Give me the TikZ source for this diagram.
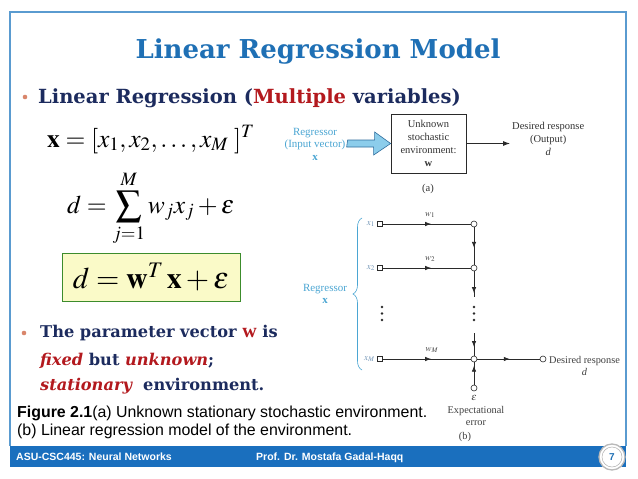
\documentclass[tikz,border=0pt]{standalone}
\usepackage{mathptmx}
\usepackage{fontspec}
\setmainfont{Liberation Serif}
\newfontfamily\titlefont{DejaVu Serif}
\newfontfamily\capfont{Liberation Sans}
\usetikzlibrary{arrows.meta,decorations.markings,decorations.pathreplacing,calc}
\definecolor{titleblue}{HTML}{1F70B5}
\definecolor{navy}{HTML}{1C2B5E}
\definecolor{darkred}{HTML}{B3191E}
\definecolor{framec}{HTML}{5A9BD0}
\definecolor{footc}{HTML}{1A6FBE}
\definecolor{cyanl}{HTML}{4BA6D3}
\definecolor{bulc}{HTML}{D9866B}
\definecolor{boxfill}{HTML}{FAFAC8}
\definecolor{boxdraw}{HTML}{3C8C2C}
\definecolor{arrfill}{HTML}{8CCDEB}
\definecolor{arrdraw}{HTML}{2F6E9E}
\definecolor{linec}{HTML}{2A2A2A}
\definecolor{xlab}{HTML}{6F93B5}
\tikzset{
  dtext/.style={font=\fontsize{10.5}{13}\selectfont, text=black!80, inner sep=0, align=center},
  btext/.style={font=\fontsize{10.3}{11.5}\selectfont, text=black!75, inner sep=0, align=center},
  smalllab/.style={font=\fontsize{9}{10}\selectfont, text=black!75, inner sep=0},
  junc/.style={circle, draw=linec, fill=white, line width=0.6pt, minimum size=6pt, inner sep=0},
  sq/.style={rectangle, draw=linec, fill=white, line width=0.6pt, minimum size=5pt, inner sep=0},
  wire/.style={draw=linec, line width=0.8pt},
  arrowat/.style={postaction={decorate}, decoration={markings, mark=at position #1 with {\arrow[linec]{Latex[length=6pt,width=4.5pt]}}}},
  bullettext/.style={anchor=base west, inner sep=0, text=navy, font=\titlefont\bfseries\fontsize{16.2}{20}\selectfont},
  captext/.style={anchor=base west, inner sep=0, text=black, font=\capfont\fontsize{15.9}{18}\selectfont},
  foottext/.style={anchor=base west, inner sep=0, text=white, font=\capfont\bfseries\fontsize{10.5}{12}\selectfont},
  eqtext/.style={anchor=base west, inner sep=0, text=black, font=\fontsize{25.5}{28}\selectfont}
}
\begin{document}
\begin{tikzpicture}[x=1pt,y=-1pt]
\useasboundingbox (0,0) rectangle (638,479);
\fill[white] (0,0) rectangle (638,479);
% frame
\draw[framec, line width=1.2pt] (10,446) -- (10,12) -- (626,12) -- (626,446);
\fill[footc] (10,446) rectangle (626,467);
% title
\node[anchor=base, inner sep=0, text=titleblue, font=\titlefont\bfseries\fontsize{26}{30}\selectfont] (title) at (318,58) {Linear Regression Model};
% bullet 1
\fill[bulc] (25,97) circle (2.3);
\node[bullettext, font=\titlefont\bfseries\fontsize{19.5}{22}\selectfont] (b1) at (38,103) {Linear Regression (\textcolor{darkred}{Multiple} variables)};
% equations
\node[eqtext] (eq1) at (47,147) {$\mathbf{x}=[x_1,x_2,\ldots,x_M\;]^T$};
\node[eqtext] (eq2) at (67,213) {$d=\displaystyle\sum_{j=1}^{M}w_jx_j+\varepsilon$};
\node[draw=boxdraw, fill=boxfill, line width=0.8pt, minimum width=178pt, minimum height=48pt, inner sep=0, font=\fontsize{30}{32}\selectfont] (eqbox) at (151,277) {$d=\mathbf{w}^T\,\mathbf{x}+\varepsilon$};
% bullet 2
\fill[bulc] (24,333) circle (2.3);
\node[bullettext] (b2a) at (40,337) {The parameter vector \textcolor{darkred}{\fontspec{Liberation Serif}\bfseries\fontsize{20}{20}\selectfont w} is};
\node[bullettext] (b2b) at (40,365) {\textcolor{darkred}{\itshape fixed} but \textcolor{darkred}{\itshape unknown};};
\node[bullettext] (b2c) at (40,390) {\textcolor{darkred}{\itshape stationary}\ \ environment.};
% caption
\node[captext] (cap1) at (17,417) {\textbf{Figure 2.1}(a) Unknown stationary stochastic environment.};
\node[captext] (cap2) at (17,435) {(b) Linear regression model of the environment.};
% footer
\node[foottext] (f1) at (16,460) {ASU-CSC445: Neural Networks};
\node[foottext] (f2) at (256,460) {Prof. Dr. Mostafa Gadal-Haqq};
\node[circle, draw=gray!55, line width=1.3pt, fill=white, minimum size=26pt, inner sep=0] (pg) at (612,457) {};
\node[circle, draw=gray!60, line width=0.5pt, minimum size=20pt, inner sep=0, text=titleblue, font=\capfont\bfseries\fontsize{10}{12}\selectfont] (pgn) at (pg.center) {7};
% ---------- diagram (a)
\node[draw=linec, line width=0.7pt, minimum width=75pt, minimum height=59pt, dtext] (envbox) at (428.5,143.5) {Unknown\\stochastic\\environment:\\\textbf{w}};
\node[dtext, text=cyanl, font=\fontsize{11}{12.5}\selectfont] (reg) at (315,144) {Regressor\\(Input vector)\\\textbf{x}};
\draw[arrdraw, fill=arrfill, line width=0.6pt] ($(envbox.west)+(-43,-3.5)$) -- ++(27,0) -- ++(0,-8) -- (envbox.west) -- ++(-17,11.5) -- ++(0,-8) -- ++(-27,0) -- cycle;
\coordinate (aout) at (510,143.5);
\draw[wire, -{Latex[length=7pt,width=5pt]}] (envbox.east) -- (aout);
\node[dtext, anchor=west] (desa) at (512,139) {Desired response\\(Output)\\\textit{d}};
\node[dtext] (la) at (428,189) {(a)};
% ---------- diagram (b)
\node[sq] (s1) at (380,224) {};
\node[sq] (s2) at (380,268) {};
\node[sq] (sM) at (380,359) {};
\node[smalllab, text=xlab, anchor=east] (x1) at (375,224) {$x_1$};
\node[smalllab, text=xlab, anchor=east] (x2) at (375,268) {$x_2$};
\node[smalllab, text=xlab, anchor=east] (xM) at (375,359) {$x_M$};
\node[junc] (j1) at (474,224) {};
\node[junc] (j2) at (474,268) {};
\node[junc] (jM) at (474,359) {};
\node[junc] (o) at (543,359) {};
\node[junc] (e) at (474,388) {};
\coordinate (v1) at (474,297);
\coordinate (v2) at (474,333);
\draw[wire, arrowat=0.55] (s1) -- (j1);
\draw[wire, arrowat=0.55] (s2) -- (j2);
\draw[wire, arrowat=0.55] (sM) -- (jM);
\draw[wire, arrowat=0.55] (j1) -- (j2);
\draw[wire, arrowat=0.85] (j2) -- (v1);
\draw[wire, arrowat=0.62] (v2) -- (jM);
\draw[wire, arrowat=0.52] (jM) -- (o);
\draw[wire, arrowat=0.85] (e) -- (jM);
\node[smalllab] (w1) at (430,215) {$w_1$};
\node[smalllab] (w2) at (430,259) {$w_2$};
\node[smalllab] (wM) at (432,350) {$w_M$};
\foreach \yy in {307,313.5,320} {\fill[linec] (382,\yy) circle (1.3); \fill[linec] (474,\yy) circle (1.3);}
\draw[cyanl, line width=0.6pt, decorate, decoration={brace, amplitude=9pt}] (362,370) -- (362,218);
\node[btext, text=cyanl, font=\fontsize{11}{11.5}\selectfont] (regb) at (325,294) {Regressor\\\textbf{x}};
\node[btext, anchor=west] (desb) at (549,366) {Desired response\\\textit{d}};
\node[btext] (eps) at (474,398) {$\varepsilon$};
\node[btext] (experr) at (476,416) {Expectational\\error};
\node[btext] (lb) at (465,437) {(b)};
\end{tikzpicture}
\end{document}
